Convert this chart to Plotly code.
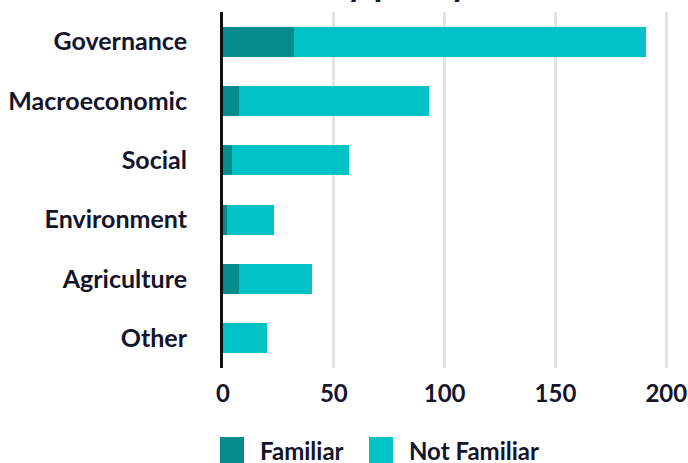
import plotly.graph_objects as go

categories = ["Governance", "Macroeconomic", "Social", "Environment", "Agriculture", "Other"]
familiar = [32, 7, 4, 2, 7, 0]
not_familiar = [159, 86, 53, 21, 33, 20]
series_names = ["Familiar", "Not Familiar"]
series_colors = ["#068B8C", "#00C2C7"]
x_ticks = [0, 50, 100, 150, 200]
title_text = "Awareness by policy area"

FONT = "Lato"
TEXT = "#14142B"

W, H = 688, 463
ML, MR, MT, MB = 223, 0, 12, 95
PW, PH = W - ML - MR, H - MT - MB

fig = go.Figure()
for name, color, vals in zip(series_names, series_colors, [familiar, not_familiar]):
    fig.add_trace(go.Bar(
        y=categories, x=vals, name=name, orientation="h",
        marker=dict(color=color, line=dict(width=0)),
        showlegend=False,
    ))

# custom legend (large square swatches)
legend_x = [220, 369]
for i, (name, color) in enumerate(zip(series_names, series_colors)):
    x0 = (legend_x[i] - ML) / PW
    x1 = (legend_x[i] + 24 - ML) / PW
    y0 = -(463 - MT - PH) / PH
    y1 = -(437 - MT - PH) / PH
    fig.add_shape(type="rect", xref="paper", yref="paper", x0=x0, x1=x1, y0=y0, y1=y1,
                  fillcolor=color, line=dict(width=0))
    fig.add_annotation(xref="paper", yref="paper", x=(legend_x[i] + 38 - ML) / PW,
                       y=-(450 - MT - PH) / PH, xanchor="left", yanchor="middle",
                       text=name, showarrow=False,
                       font=dict(family=FONT, size=24, color=TEXT, weight="bold"))

# title (mostly above the visible canvas)
fig.add_annotation(xref="paper", yref="paper", x=(344 - ML) / PW, y=1 + 30 / PH,
                   xanchor="center", yanchor="middle", text=title_text, showarrow=False,
                   font=dict(family=FONT, size=36, color=TEXT, weight="bold"))

fig.update_layout(
    barmode="stack",
    bargap=0.49,
    width=W, height=H,
    margin=dict(l=ML, r=MR, t=MT, b=MB, pad=0),
    paper_bgcolor="white", plot_bgcolor="white",
    font=dict(family=FONT, size=24, color=TEXT, weight="bold"),
    xaxis=dict(range=[0, 209.8], tickvals=x_ticks, ticktext=[str(v) for v in x_ticks],
               showgrid=True, gridcolor="#E3E3E3", gridwidth=2.5, zeroline=False,
               showline=False, ticks="", ticklabelstandoff=9, ticklabeloverflow="allow",
               tickfont=dict(family=FONT, size=24, color=TEXT, weight="bold")),
    yaxis=dict(autorange="reversed", showgrid=False, zeroline=False,
               showline=True, linecolor="#111111", linewidth=3, ticks="",
               ticklabelstandoff=28,
               tickfont=dict(family=FONT, size=25, color=TEXT, weight="bold")),
)

fig.write_html("out.html", config={"displayModeBar": False},
               post_script="document.body.style.margin='0';document.body.style.overflow='hidden';")
